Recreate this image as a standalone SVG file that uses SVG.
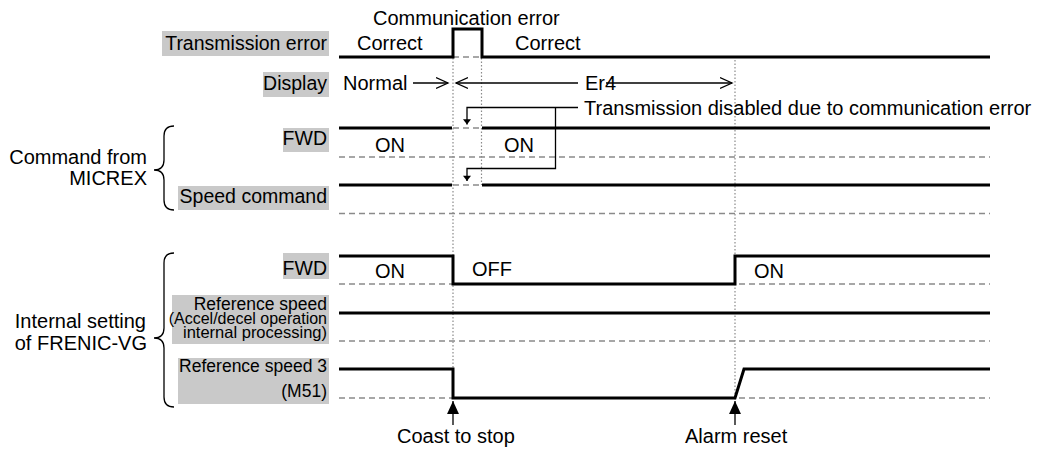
<svg xmlns="http://www.w3.org/2000/svg" width="1039" height="450" viewBox="0 0 1039 450">
<style>
text{font-family:"Liberation Sans",Arial,sans-serif;fill:#000}
.t{font-size:20px}
.lb{font-size:19.5px;text-anchor:end}
.grp{font-size:20px;text-anchor:end}
.sig{fill:none;stroke:#000;stroke-width:3}
.base{fill:none;stroke:#8a8a8a;stroke-width:1.5;stroke-dasharray:6 4}
.dot{fill:none;stroke:#8a8a8a;stroke-width:1.2;stroke-dasharray:1.5 2}
.thin{fill:none;stroke:#000;stroke-width:1.3}
.box{fill:#c9c9c9}
</style>
<defs>
<marker id="chev" markerUnits="userSpaceOnUse" markerWidth="14" markerHeight="14" refX="12" refY="6" orient="auto-start-reverse" viewBox="0 0 14 12">
<path d="M0,0.5 L12,6 L0,11.5" fill="none" stroke="#000" stroke-width="1.3"/>
</marker>
<marker id="tri" markerUnits="userSpaceOnUse" markerWidth="10" markerHeight="8" refX="6" refY="4.5" orient="auto" viewBox="0 0 7 9">
<path d="M0,0 L6,4.5 L0,9 Z" fill="#000"/>
</marker>
<marker id="big" markerUnits="userSpaceOnUse" markerWidth="13" markerHeight="13" refX="12" refY="5.5" orient="auto" viewBox="0 0 12 11">
<path d="M0,0 L12,5.5 L0,11 Z" fill="#000"/>
</marker>
</defs>

<g id="guides">
<line class="dot" x1="453" y1="58" x2="453" y2="400"/>
<line class="dot" x1="481.5" y1="58" x2="481.5" y2="185"/>
<line class="dot" x1="735" y1="60" x2="735" y2="400"/>
</g>

<g id="transmission-error">
<rect class="box" x="162" y="31" width="167" height="25"/>
<text class="lb" x="327" y="50">Transmission error</text>
<text class="t" x="373" y="25">Communication error</text>
<text class="t" x="357" y="50">Correct</text>
<text class="t" x="515" y="50">Correct</text>
<line class="base" x1="453" y1="57" x2="482" y2="57"/>
<path class="sig" d="M339,57 H453 V29 H482 V57 H990"/>
</g>

<g id="display">
<rect class="box" x="263" y="72" width="66" height="25"/>
<text class="lb" x="327" y="90">Display</text>
<text class="t" x="343" y="90">Normal</text>
<text class="t" x="585" y="90">Er4</text>
</g>

<g id="note">
<text class="t" x="584" y="115">Transmission disabled due to communication error</text>
</g>

<g id="cmd-fwd">
<rect class="box" x="283" y="128" width="46" height="24"/>
<text class="lb" x="327" y="145">FWD</text>
<line class="base" x1="339" y1="157" x2="990" y2="157"/>
<line class="base" x1="453" y1="128" x2="482" y2="128"/>
<path class="sig" d="M339,128 H452 M482,128 H990"/>
<text class="t" x="375" y="152">ON</text>
<text class="t" x="504" y="152">ON</text>
</g>

<g id="cmd-speed">
<rect class="box" x="178" y="186" width="151" height="24"/>
<text class="lb" x="327" y="203">Speed command</text>
<line class="base" x1="339" y1="213.5" x2="990" y2="213.5"/>
<line class="base" x1="453" y1="185" x2="482" y2="185"/>
<path class="sig" d="M339,185 H452 M482,185 H990"/>
</g>

<g id="group-micrex">
<text class="grp" x="147" y="164">Command from</text>
<text class="grp" x="147" y="185">MICREX</text>
<path class="thin" d="M174,126 Q164,126 164,136 V160 Q164,170 154,170 Q164,170 164,180 V200 Q164,210 174,210"/>
</g>

<g id="int-fwd">
<rect class="box" x="283" y="253" width="46" height="26"/>
<text class="lb" x="327" y="275">FWD</text>
<line class="base" x1="339" y1="284" x2="990" y2="284"/>
<path class="sig" d="M339,256 H453 V284 H735 V256 H990"/>
<text class="t" x="375" y="278">ON</text>
<text class="t" x="472" y="276">OFF</text>
<text class="t" x="754" y="278">ON</text>
</g>

<g id="int-ref">
<rect class="box" x="172" y="295" width="157" height="49"/>
<text class="lb" x="327" y="310" style="font-size:17.5px">Reference speed</text>
<text class="lb" x="327" y="323.5" style="font-size:16px">(Accel/decel operation</text>
<text class="lb" x="327" y="337.5" style="font-size:16.5px">internal processing)</text>
<line class="base" x1="339" y1="341" x2="990" y2="341"/>
<line class="sig" x1="339" y1="313" x2="990" y2="313"/>
</g>

<g id="int-ref3">
<rect class="box" x="178" y="358" width="151" height="46"/>
<text class="lb" x="327" y="372" style="font-size:17.5px">Reference speed 3</text>
<text class="lb" x="327" y="397" style="font-size:17.5px">(M51)</text>
<line class="base" x1="339" y1="398" x2="990" y2="398"/>
<path class="sig" d="M339,369 H453 V398 H735 L744,369 H990"/>
</g>

<g id="group-frenic">
<text class="grp" x="146" y="328">Internal setting</text>
<text class="grp" x="147" y="350">of FRENIC-VG</text>
<path class="thin" d="M174,253 Q164,253 164,263 V328 Q164,338 154,338 Q164,338 164,348 V397 Q164,407 174,407"/>
</g>

<g id="events">
<text class="t" x="397" y="443">Coast to stop</text>
<text class="t" x="685" y="443">Alarm reset</text>
</g>

<g id="connectors">
<line class="thin" x1="413" y1="83" x2="448" y2="83" marker-end="url(#chev)"/>
<line class="thin" x1="456" y1="83" x2="578" y2="83" marker-start="url(#chev)"/>
<line class="thin" x1="606" y1="83" x2="732" y2="83" marker-end="url(#chev)"/>
<path class="thin" d="M578,107.5 H467 V124.5" marker-end="url(#tri)"/>
<path class="thin" d="M555.5,107.5 V168.5 H467 V181" marker-end="url(#tri)"/>
<line class="thin" x1="453" y1="425" x2="453" y2="401" marker-end="url(#big)"/>
<line class="thin" x1="735" y1="425" x2="735" y2="401" marker-end="url(#big)"/>
</g>
</svg>
